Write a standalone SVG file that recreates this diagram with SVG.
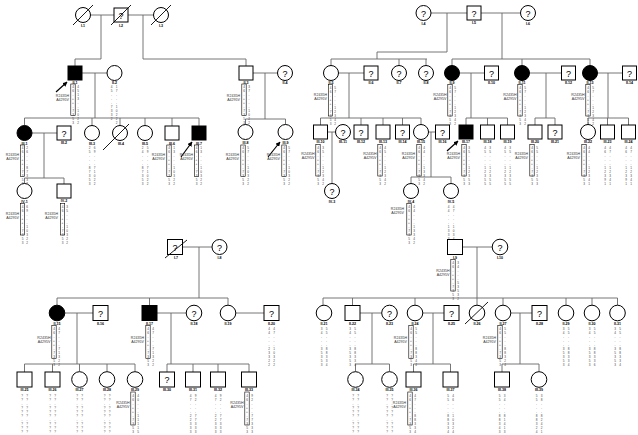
<svg xmlns="http://www.w3.org/2000/svg" width="638" height="435" viewBox="0 0 638 435">
<style>
.n{fill:#fff;stroke:#000;stroke-width:1}
.a{fill:#000;stroke:#000;stroke-width:1}
.c{fill:none;stroke:#666;stroke-width:0.9}
.s{stroke:#000;stroke-width:0.9}
.q{font-family:"Liberation Sans",Arial,sans-serif;font-size:9px;text-anchor:middle}
.l{font-family:"Liberation Sans",Arial,sans-serif;font-size:3.6px;font-weight:bold;text-anchor:middle}
.m{font-family:"Liberation Sans",Arial,sans-serif;font-size:3.6px;text-anchor:end;fill:#333}
.h{font-family:"Liberation Sans",Arial,sans-serif;font-size:3.1px;fill:#444;writing-mode:vertical-lr;text-orientation:upright}
.hb{fill:none;stroke:#000;stroke-width:0.6}
.ar{stroke:#000;stroke-width:1.2;marker-end:url(#ah)}
</style>
<defs>
<marker id="ah" viewBox="0 0 10 10" refX="9" refY="5" markerWidth="4" markerHeight="4" orient="auto"><path d="M0 0L10 5L0 10z" fill="#000"/></marker>
</defs>

<g id="connectors" class="c">
<!-- top-left -->
<path d="M90.5 15H114M128 15H153.5M101 15V59H75V66M143 15V59H246V66"/>
<path d="M82 73H107M95 73V118M24.5 118H199M24.5 118V125.5M92 118V125.5M120 118V125.5M145 118V125.5M172 118V126M199 118V126"/>
<path d="M253 73H277.5M265 73V119M245.5 119H285.5M245.5 119V124.5M285.5 119V124.5"/>
<path d="M32 133H57M44 133V178M24.5 178H64M24.5 178V183.5M64 178V184"/>
<!-- top-right -->
<path d="M431 13H467M481 13H520.5M447 13V52H377V59M331 59H427M331 59V65.5M399 59V65.5M426 59V65.5"/>
<path d="M502 13V59M452 59H590M452 59V65.5M522 59V65.5M590 59V65.5"/>
<path d="M338.5 73H364M349 73V118M320.5 118H421M320.5 118V125M361 118V125M383 118V125M402.5 118V125M421 118V124.5"/>
<path d="M459.5 73H484.5M471 73V118M466 118H507.5M466 118V125M487.5 118V125M507.5 118V125"/>
<path d="M529.5 73H561.5M546 73V118M535 118H555M535 118V125M555 118V125"/>
<path d="M597.5 73H622.5M608 73V118M588 118H628.5M588 118V124.5M607.5 118V125M628.5 118V125"/>
<path d="M327.5 132H335.5M332 132V183.5M428.5 132H435.5M431 132V177M411 177H451M411 177V183.5M451 177V183.5"/>
<!-- bottom-left -->
<path d="M182.5 247H212M199 247V298M57 298H228M57 298V305.5M149.5 298V305.5M228 298V305.5"/>
<path d="M64.5 313H93M77 313V364M24.5 364H135M24.5 364V372M52.5 364V372M79.5 364V371.5M107 364V371.5M135 364V371.5"/>
<path d="M157 313H186.5M171 313V364M167 364H249M167 364V372M193 364V372M218 364V372M249 364V372M235.5 313H264"/>
<!-- bottom-right -->
<path d="M462.5 247H492.5M477 247V305.5M323 298H617.5M323 298V305.5M352.5 298V305.5M415 298V305.5M503 298V305.5M566 298V305.5M592 298V305.5M617.5 298V305.5"/>
<path d="M360 313H381.5M372 313V364M355.5 364H389.5M355.5 364V371.5M389.5 364V371.5"/>
<path d="M422.5 313H444M433 313V364M413.5 364H450.5M413.5 364V372M450.5 364V372"/>
<path d="M510.5 313H532M520 313V364M502 364H539M502 364V372M539 364V371.5"/>
<!-- proband arrows -->
<line class="ar" x1="56" y1="92" x2="67" y2="82"/>
<line class="ar" x1="181" y1="157" x2="192" y2="142"/>
<line class="ar" x1="268" y1="157" x2="280" y2="142"/>
<line class="ar" x1="447" y1="151" x2="458" y2="141"/>
</g>

<!-- ===== TOP-LEFT ===== -->
<g id="I-1"><circle class="n" cx="83" cy="15" r="7.5"/><line class="s" x1="73" y1="25" x2="93" y2="5"/><text class="l" x="83" y="26.5">I-1</text></g>
<g id="I-2"><rect class="n" x="114" y="8" width="14" height="14"/><text class="q" x="121" y="18.5">?</text><line class="s" x1="111" y1="25" x2="131" y2="5"/><text class="l" x="121" y="26.5">I-2</text></g>
<g id="I-3"><circle class="n" cx="161" cy="15" r="7.5"/><line class="s" x1="151" y1="25" x2="171" y2="5"/><text class="l" x="161" y="26.5">I-3</text></g>

<g id="II-1"><rect class="a" x="68" y="66" width="14" height="14"/><text class="l" x="75" y="83.5">II-1</text>
<rect class="hb" x="70.8" y="84" width="4.4" height="31.5"/><text class="h" x="73" y="85">46-++-7353</text><text class="h" x="78" y="85">4513--1022</text>
<text class="m" x="69" y="97">R2435H</text><text class="m" x="69" y="101">A4295V</text></g>
<g id="II-2"><circle class="n" cx="114.5" cy="73" r="7.5"/><text class="l" x="114.5" y="83.5">II-2</text>
<text class="h" x="111.5" y="85">45---7332</text><text class="h" x="116.5" y="85">17---10222</text></g>
<g id="II-3"><rect class="n" x="239" y="66" width="14" height="14"/><text class="l" x="246" y="83.5">II-3</text>
<rect class="hb" x="241.8" y="84" width="4.4" height="31.5"/><text class="h" x="244" y="85">46-++-7353</text><text class="h" x="249" y="85">37----1022</text>
<text class="m" x="240" y="97">R2435H</text><text class="m" x="240" y="101">A4295V</text></g>
<g id="II-4"><circle class="n" cx="285" cy="73" r="7.5"/><text class="q" x="285" y="76.5">?</text><text class="l" x="285" y="84">II-4</text></g>

<g id="III-1"><circle class="a" cx="24.5" cy="133" r="7.5"/><text class="l" x="24.5" y="144.5">III-1</text>
<rect class="hb" x="20.3" y="145" width="4.4" height="31.5"/><text class="h" x="22.5" y="146">46-++-7353</text><text class="h" x="27" y="146">26---87332</text>
<text class="m" x="19" y="156">R2435H</text><text class="m" x="19" y="160">A4295V</text></g>
<g id="III-2"><rect class="n" x="57" y="126" width="14" height="14"/><text class="q" x="64" y="136.5">?</text><text class="l" x="64" y="144">III-2</text></g>
<g id="III-3"><circle class="n" cx="92" cy="133" r="7.5"/><text class="l" x="92" y="144.5">III-3</text>
<text class="h" x="89.5" y="146">25---87353</text><text class="h" x="94.5" y="146">69---71022</text></g>
<g id="III-4"><circle class="n" cx="120" cy="133" r="7.5"/><line class="s" x1="103" y1="150" x2="129" y2="124"/><text class="l" x="121" y="144.5">III-4</text></g>
<g id="III-5"><circle class="n" cx="145" cy="133" r="7.5"/><text class="l" x="145" y="144.5">III-5</text>
<text class="h" x="142.5" y="146">24---87353</text><text class="h" x="147.5" y="146">59---71022</text></g>
<g id="III-6"><rect class="n" x="165" y="126" width="14" height="14"/><text class="l" x="172" y="144.5">III-6</text>
<rect class="hb" x="166.8" y="145" width="4.4" height="31.5"/><text class="h" x="169" y="146">46-++-7353</text><text class="h" x="174" y="146">13---10322</text>
<text class="m" x="165" y="156">R2435H</text><text class="m" x="165" y="160">A4295V</text></g>
<g id="III-7"><rect class="a" x="192" y="126" width="14" height="14"/><text class="l" x="199" y="144.5">III-7</text>
<rect class="hb" x="194.3" y="145" width="4.4" height="31.5"/><text class="h" x="196.5" y="146">46-++-7353</text><text class="h" x="201" y="146">13---10322</text>
<text class="m" x="193" y="156">R2435H</text><text class="m" x="193" y="160">A4295V</text></g>
<g id="III-8"><circle class="n" cx="245.5" cy="132" r="7.5"/><text class="l" x="245.5" y="143.5">III-8</text>
<rect class="hb" x="240.8" y="145" width="4.4" height="31.5"/><text class="h" x="243" y="146">46-++-7353</text><text class="h" x="248" y="146">57---10322</text>
<text class="m" x="239" y="156">R2435H</text><text class="m" x="239" y="160">A4295V</text></g>
<g id="III-9"><circle class="n" cx="285.5" cy="132" r="7.5"/><text class="l" x="285.5" y="143.5">III-9</text>
<rect class="hb" x="281.8" y="145" width="4.4" height="31.5"/><text class="h" x="284" y="146">46-++-7353</text><text class="h" x="289" y="146">57---10322</text>
<text class="m" x="280" y="156">R2435H</text><text class="m" x="280" y="160">A4295V</text></g>

<g id="IV-1"><circle class="n" cx="24.5" cy="191" r="7.5"/><text class="l" x="24.5" y="202.5">IV-1</text>
<rect class="hb" x="20.3" y="203.5" width="4.4" height="31.5"/><text class="h" x="22.5" y="204.5">46-++-7353</text><text class="h" x="27" y="204.5">69---10322</text>
<text class="m" x="19" y="215">R2435H</text><text class="m" x="19" y="219">A4295V</text></g>
<g id="IV-2"><rect class="n" x="57" y="184" width="14" height="14"/><text class="l" x="64" y="202">IV-2</text>
<rect class="hb" x="60.3" y="203.5" width="4.4" height="31.5"/><text class="h" x="62.5" y="204.5">46-++-7353</text><text class="h" x="67" y="204.5">35---10322</text>
<text class="m" x="58" y="215">R2435H</text><text class="m" x="58" y="219">A4295V</text></g>

<!-- ===== TOP-RIGHT ===== -->
<g id="I-4"><circle class="n" cx="423.5" cy="13" r="7.5"/><text class="q" x="423.5" y="16.5">?</text><text class="l" x="423.5" y="24.5">I-4</text></g>
<g id="I-5"><rect class="n" x="467" y="6" width="14" height="14"/><text class="q" x="474" y="16.5">?</text><text class="l" x="474" y="24">I-5</text></g>
<g id="I-6"><circle class="n" cx="528" cy="13" r="7.5"/><text class="q" x="528" y="16.5">?</text><text class="l" x="528" y="24.5">I-6</text></g>

<g id="II-5"><circle class="n" cx="331" cy="73" r="7.5"/><text class="l" x="331" y="84">II-5</text>
<rect class="hb" x="328.3" y="84.5" width="4.4" height="31.5"/><text class="h" x="330.5" y="85.5">46-++-7353</text><text class="h" x="335" y="85.5">57---12342</text>
<text class="m" x="327" y="96">R2435H</text><text class="m" x="327" y="100">A4295V</text></g>
<g id="II-6"><rect class="n" x="364" y="66" width="14" height="14"/><text class="q" x="371" y="76.5">?</text><text class="l" x="371" y="83.5">II-6</text></g>
<g id="II-7"><circle class="n" cx="399" cy="73" r="7.5"/><text class="q" x="399" y="76.5">?</text><text class="l" x="399" y="84">II-7</text></g>
<g id="II-8"><circle class="n" cx="426" cy="73" r="7.5"/><text class="q" x="426" y="76.5">?</text><text class="l" x="426" y="84">II-8</text></g>
<g id="II-9"><circle class="a" cx="452" cy="73" r="7.5"/><text class="l" x="452" y="84">II-9</text>
<rect class="hb" x="447.8" y="84.5" width="4.4" height="31.5"/><text class="h" x="450" y="85.5">46-++-7353</text><text class="h" x="455" y="85.5">57---12342</text>
<text class="m" x="446.5" y="96">R2435H</text><text class="m" x="446.5" y="100">A4295V</text></g>
<g id="II-10"><rect class="n" x="484.5" y="66" width="14" height="14"/><text class="q" x="491.5" y="76.5">?</text><text class="l" x="491.5" y="83.5">II-10</text></g>
<g id="II-11"><circle class="a" cx="522" cy="73" r="7.5"/><text class="l" x="522" y="84">II-11</text>
<rect class="hb" x="517.8" y="84.5" width="4.4" height="31.5"/><text class="h" x="520" y="85.5">46-++-7353</text><text class="h" x="525" y="85.5">57---12342</text>
<text class="m" x="516.5" y="96">R2435H</text><text class="m" x="516.5" y="100">A4295V</text></g>
<g id="II-12"><rect class="n" x="561.5" y="66" width="14" height="14"/><text class="q" x="568.5" y="76.5">?</text><text class="l" x="568.5" y="83.5">II-12</text></g>
<g id="II-13"><circle class="a" cx="590" cy="73" r="7.5"/><text class="l" x="590" y="84">II-13</text>
<rect class="hb" x="585.8" y="84.5" width="4.4" height="31.5"/><text class="h" x="588" y="85.5">46-++-7353</text><text class="h" x="593" y="85.5">57---12342</text>
<text class="m" x="584.5" y="96">R2435H</text><text class="m" x="584.5" y="100">A4295V</text></g>
<g id="II-14"><rect class="n" x="622.5" y="66" width="14" height="14"/><text class="q" x="629.5" y="76.5">?</text><text class="l" x="629.5" y="83.5">II-14</text></g>

<g id="III-10"><rect class="n" x="313.5" y="125" width="14" height="14"/><text class="l" x="320.5" y="143">III-10</text>
<rect class="hb" x="315.8" y="144.5" width="4.4" height="31.5"/><text class="h" x="318" y="145.5">46-++-7353</text><text class="h" x="323" y="145.5">35---12342</text>
<text class="m" x="314.5" y="155">R2435H</text><text class="m" x="314.5" y="159">A4295V</text></g>
<g id="III-11"><circle class="n" cx="343" cy="132" r="7.5"/><text class="q" x="343" y="135.5">?</text><text class="l" x="343" y="143">III-11</text></g>
<g id="III-12"><rect class="n" x="354" y="125" width="14" height="14"/><text class="q" x="361" y="135.5">?</text><text class="l" x="361" y="143">III-12</text></g>
<g id="III-13"><rect class="n" x="376" y="125" width="14" height="14"/><text class="l" x="383" y="143">III-13</text>
<rect class="hb" x="377.8" y="144.5" width="4.4" height="31.5"/><text class="h" x="380" y="145.5">46-++-7353</text><text class="h" x="385" y="145.5">45---12342</text>
<text class="m" x="376.5" y="155">R2435H</text><text class="m" x="376.5" y="159">A4295V</text></g>
<g id="III-14"><rect class="n" x="395.5" y="125" width="14" height="14"/><text class="q" x="402.5" y="135.5">?</text><text class="l" x="402.5" y="143">III-14</text></g>
<g id="III-15"><circle class="n" cx="421" cy="132" r="7.5"/><text class="l" x="421" y="143">III-15</text>
<rect class="hb" x="416.8" y="144.5" width="4.4" height="31.5"/><text class="h" x="419" y="145.5">46-++-7353</text><text class="h" x="424" y="145.5">44---13342</text>
<text class="m" x="415" y="155">R2435H</text><text class="m" x="415" y="159">A4295V</text></g>
<g id="III-16"><rect class="n" x="435.5" y="125" width="14" height="14"/><text class="q" x="442.5" y="135.5">?</text><text class="l" x="442.5" y="143">III-16</text></g>
<g id="III-17"><rect class="a" x="459" y="125" width="14" height="14"/><text class="l" x="466" y="143">III-17</text>
<rect class="hb" x="461.8" y="144.5" width="4.4" height="31.5"/><text class="h" x="464" y="145.5">46-++-7353</text><text class="h" x="469" y="145.5">35---12353</text>
<text class="m" x="460" y="155">R2435H</text><text class="m" x="460" y="159">A4295V</text></g>
<g id="III-18"><rect class="n" x="480.5" y="125" width="14" height="14"/><text class="l" x="487.5" y="143">III-18</text>
<text class="h" x="485" y="145.5">45---12355</text><text class="h" x="490" y="145.5">35---12355</text></g>
<g id="III-19"><rect class="n" x="500.5" y="125" width="14" height="14"/><text class="l" x="507.5" y="143">III-19</text>
<text class="h" x="505" y="145.5">45---12355</text><text class="h" x="510" y="145.5">35---12355</text></g>
<g id="III-20"><rect class="n" x="528" y="125" width="14" height="14"/><text class="l" x="535" y="143">III-20</text>
<rect class="hb" x="529.8" y="144.5" width="4.4" height="31.5"/><text class="h" x="532" y="145.5">46-++-7353</text><text class="h" x="537" y="145.5">55---12353</text>
<text class="m" x="528" y="155">R2435H</text><text class="m" x="528" y="159">A4295V</text></g>
<g id="III-21"><rect class="n" x="548" y="125" width="14" height="14"/><text class="q" x="555" y="135.5">?</text><text class="l" x="555" y="143">III-21</text></g>
<g id="III-22"><circle class="n" cx="588" cy="132" r="7.5"/><text class="l" x="588" y="143">III-22</text>
<rect class="hb" x="581.8" y="144.5" width="4.4" height="31.5"/><text class="h" x="584" y="145.5">46-++-7353</text><text class="h" x="589" y="145.5">44---12341</text>
<text class="m" x="580" y="155">R2435H</text><text class="m" x="580" y="159">A4295V</text></g>
<g id="III-23"><rect class="n" x="600.5" y="125" width="14" height="14"/><text class="l" x="607.5" y="143">III-23</text>
<text class="h" x="605" y="145.5">46---12391</text><text class="h" x="610" y="145.5">47---12341</text></g>
<g id="III-24"><rect class="n" x="621.5" y="125" width="14" height="14"/><text class="l" x="628.5" y="143">III-24</text>
<text class="h" x="626" y="145.5">46---12391</text><text class="h" x="631" y="145.5">47---12341</text></g>

<g id="IV-3"><circle class="n" cx="332" cy="191" r="7.5"/><text class="q" x="332" y="194.5">?</text><text class="l" x="332" y="202.5">IV-3</text></g>
<g id="IV-4"><circle class="n" cx="411" cy="191" r="7.5"/><text class="l" x="411" y="202.5">IV-4</text>
<rect class="hb" x="406.8" y="203.5" width="4.4" height="31.5"/><text class="h" x="409" y="204.5">46-++-7353</text><text class="h" x="414" y="204.5">44---13342</text>
<text class="m" x="404" y="210">R2435H</text><text class="m" x="404" y="214">A4295V</text></g>
<g id="IV-5"><circle class="n" cx="451" cy="191" r="7.5"/><text class="l" x="451" y="202.5">IV-5</text>
<text class="h" x="448.5" y="204.5">44---13332</text><text class="h" x="453.5" y="204.5">47---10342</text></g>

<!-- ===== BOTTOM-LEFT ===== -->
<g id="I-7"><rect class="n" x="167.5" y="239.5" width="15" height="15"/><text class="q" x="175" y="250.5">?</text><line class="s" x1="165" y1="258" x2="187" y2="240"/><text class="l" x="176" y="258.5">I-7</text></g>
<g id="I-8"><circle class="n" cx="219.5" cy="247" r="7.5"/><text class="q" x="219.5" y="250.5">?</text><text class="l" x="219.5" y="258.5">I-8</text></g>

<g id="II-15"><circle class="a" cx="57" cy="313" r="7.8"/><text class="l" x="57" y="324.5">II-15</text>
<rect class="hb" x="51.8" y="325.5" width="4.4" height="33"/><text class="h" x="54" y="327">46-++-7353</text><text class="h" x="59" y="327">47---71322</text>
<text class="m" x="50.5" y="339">R2435H</text><text class="m" x="50.5" y="343">A4295V</text></g>
<g id="II-16"><rect class="n" x="93" y="305.5" width="15" height="15"/><text class="q" x="100.5" y="316.5">?</text><text class="l" x="100.5" y="324.5">II-16</text></g>
<g id="II-17"><rect class="a" x="142" y="305.5" width="15" height="15"/><text class="l" x="149.5" y="324.5">II-17</text>
<rect class="hb" x="145.8" y="325.5" width="4.4" height="33"/><text class="h" x="148" y="327">46-++-7353</text><text class="h" x="153" y="327">47---71322</text>
<text class="m" x="144" y="339">R2435H</text><text class="m" x="144" y="343">A4295V</text></g>
<g id="II-18"><circle class="n" cx="194" cy="313" r="7.8"/><text class="q" x="194" y="316.5">?</text><text class="l" x="194" y="324.5">II-18</text></g>
<g id="II-19"><circle class="n" cx="228" cy="313" r="7.8"/><text class="l" x="228" y="324.5">II-19</text></g>
<g id="II-20"><rect class="n" x="264" y="305.5" width="15" height="15"/><text class="q" x="271.5" y="316.5">?</text><text class="l" x="271.5" y="324.5">II-20</text>
<text class="h" x="269" y="327">44---23322</text><text class="h" x="274" y="327">47---10322</text></g>

<g id="III-25"><rect class="n" x="17" y="372" width="15" height="15"/><text class="l" x="24.5" y="391">III-25</text>
<text class="h" x="22" y="393.5">??-???-???</text><text class="h" x="27" y="393.5">??-???-???</text></g>
<g id="III-26"><rect class="n" x="45" y="372" width="15" height="15"/><text class="l" x="52.5" y="391">III-26</text>
<text class="h" x="50" y="393.5">??-???-???</text><text class="h" x="55" y="393.5">??-???-???</text></g>
<g id="III-27"><circle class="n" cx="79.5" cy="379.5" r="7.8"/><text class="l" x="79.5" y="391">III-27</text>
<text class="h" x="77" y="393.5">??-???-???</text><text class="h" x="82" y="393.5">??-???-???</text></g>
<g id="III-28"><circle class="n" cx="107" cy="379.5" r="7.8"/><text class="l" x="107" y="391">III-28</text>
<text class="h" x="104.5" y="393.5">??-???-???</text><text class="h" x="109.5" y="393.5">??-???-???</text></g>
<g id="III-29"><circle class="n" cx="135" cy="379.5" r="7.8"/><text class="l" x="135" y="391">III-29</text>
<rect class="hb" x="130.8" y="392" width="4.4" height="33"/><text class="h" x="133" y="393.5">46-++-7353</text><text class="h" x="138" y="393.5">40---11115</text>
<text class="m" x="129.5" y="404">R2435H</text><text class="m" x="129.5" y="408">A4295V</text></g>
<g id="III-30"><rect class="n" x="159.5" y="372" width="15" height="15"/><text class="q" x="167" y="383">?</text><text class="l" x="167" y="391">III-30</text></g>
<g id="III-31"><rect class="n" x="185.5" y="372" width="15" height="15"/><text class="l" x="193" y="391">III-31</text>
<text class="h" x="190.5" y="393.5">47---22333</text><text class="h" x="195.5" y="393.5">92---77333</text></g>
<g id="III-32"><rect class="n" x="210.5" y="372" width="15" height="15"/><text class="l" x="218" y="391">III-32</text>
<text class="h" x="215.5" y="393.5">47---22333</text><text class="h" x="220.5" y="393.5">92---77333</text></g>
<g id="III-33"><rect class="n" x="241.5" y="372" width="15" height="15"/><text class="l" x="249" y="391">III-33</text>
<rect class="hb" x="244.8" y="392" width="4.4" height="33"/><text class="h" x="247" y="393.5">46-++-7353</text><text class="h" x="252" y="393.5">92---77333</text>
<text class="m" x="243.5" y="404">R2435H</text><text class="m" x="243.5" y="408">A4295V</text></g>

<!-- ===== BOTTOM-RIGHT ===== -->
<g id="I-9"><rect class="n" x="447.5" y="239.5" width="15" height="15"/><text class="l" x="455" y="258.5">I-9</text>
<rect class="hb" x="450.8" y="259.5" width="4.4" height="31.5"/><text class="h" x="453" y="260.5">46-++-7353</text><text class="h" x="458" y="260.5">34---53532</text>
<text class="m" x="449.5" y="272">R2435H</text><text class="m" x="449.5" y="276">A4295V</text></g>
<g id="I-10"><circle class="n" cx="500" cy="247" r="7.8"/><text class="q" x="500" y="250.5">?</text><text class="l" x="500" y="258.5">I-10</text></g>

<g id="II-21"><circle class="n" cx="324" cy="313" r="7.8"/><text class="l" x="324" y="324.5">II-21</text>
<text class="h" x="321.5" y="327">34---35353</text><text class="h" x="326.5" y="327">55---88334</text></g>
<g id="II-22"><rect class="n" x="345" y="305.5" width="15" height="15"/><text class="l" x="352.5" y="324.5">II-22</text>
<text class="h" x="350" y="327">34---35353</text><text class="h" x="355" y="327">55---88334</text></g>
<g id="II-23"><circle class="n" cx="389.5" cy="313" r="7.8"/><text class="q" x="389.5" y="316.5">?</text><text class="l" x="389.5" y="324.5">II-23</text></g>
<g id="II-24"><circle class="n" cx="415" cy="313" r="7.8"/><text class="l" x="415" y="324.5">II-24</text>
<rect class="hb" x="408.8" y="325.5" width="4.4" height="33"/><text class="h" x="411" y="327">46-++-7353</text><text class="h" x="416" y="327">55---88344</text>
<text class="m" x="407" y="339">R2435H</text><text class="m" x="407" y="343">A4295V</text></g>
<g id="II-25"><rect class="n" x="444" y="305.5" width="15" height="15"/><text class="q" x="451.5" y="316.5">?</text><text class="l" x="451.5" y="324.5">II-25</text></g>
<g id="II-26"><circle class="n" cx="477" cy="313" r="7.8"/><line class="s" x1="465" y1="324" x2="488" y2="302"/><text class="l" x="477" y="324.5">II-26</text></g>
<g id="II-27"><circle class="n" cx="503" cy="313" r="7.8"/><text class="l" x="503" y="324.5">II-27</text>
<rect class="hb" x="497.8" y="325.5" width="4.4" height="33"/><text class="h" x="500" y="327">46-++-7353</text><text class="h" x="505" y="327">55---88324</text>
<text class="m" x="496" y="339">R2435H</text><text class="m" x="496" y="343">A4295V</text></g>
<g id="II-28"><rect class="n" x="532" y="305.5" width="15" height="15"/><text class="q" x="539.5" y="316.5">?</text><text class="l" x="539.5" y="324.5">II-28</text></g>
<g id="II-29"><circle class="n" cx="566" cy="313" r="7.8"/><text class="l" x="566" y="324.5">II-29</text>
<text class="h" x="563.5" y="327">34---35353</text><text class="h" x="568.5" y="327">55---88334</text></g>
<g id="II-30"><circle class="n" cx="592" cy="313" r="7.8"/><text class="l" x="592" y="324.5">II-30</text>
<text class="h" x="589.5" y="327">34---35353</text><text class="h" x="594.5" y="327">55---88336</text></g>
<g id="II-31"><circle class="n" cx="617.5" cy="313" r="7.8"/><text class="l" x="617.5" y="324.5">II-31</text>
<text class="h" x="615" y="327">34---35353</text><text class="h" x="620" y="327">55---88334</text></g>

<g id="III-34"><circle class="n" cx="355.5" cy="379.5" r="7.8"/><text class="l" x="355.5" y="391">III-34</text>
<text class="h" x="353" y="393.5">??-???-???</text><text class="h" x="358" y="393.5">??-???-???</text></g>
<g id="III-35"><circle class="n" cx="389.5" cy="379.5" r="7.8"/><text class="l" x="389.5" y="391">III-35</text>
<text class="h" x="387" y="393.5">??-???-???</text><text class="h" x="392" y="393.5">??-???-???</text></g>
<g id="III-36"><rect class="n" x="406" y="372" width="15" height="15"/><text class="l" x="413.5" y="391">III-36</text>
<rect class="hb" x="407.8" y="392" width="4.4" height="33"/><text class="h" x="410" y="393.5">46-++-7353</text><text class="h" x="415" y="393.5">47---88334</text>
<text class="m" x="406" y="404">R2435H</text><text class="m" x="406" y="408">A4295V</text></g>
<g id="III-37"><rect class="n" x="443" y="372" width="15" height="15"/><text class="l" x="450.5" y="391">III-37</text>
<text class="h" x="448" y="393.5">55---88334</text><text class="h" x="453" y="393.5">46---10324</text></g>
<g id="III-38"><rect class="n" x="494.5" y="372" width="15" height="15"/><text class="l" x="502" y="391">III-38</text>
<text class="h" x="499.5" y="393.5">55---88343</text><text class="h" x="504.5" y="393.5">34---81413</text></g>
<g id="III-39"><circle class="n" cx="539" cy="379.5" r="7.8"/><text class="l" x="539" y="391">III-39</text>
<text class="h" x="536.5" y="393.5">55---88324</text><text class="h" x="541.5" y="393.5">38---82421</text></g>
</svg>
